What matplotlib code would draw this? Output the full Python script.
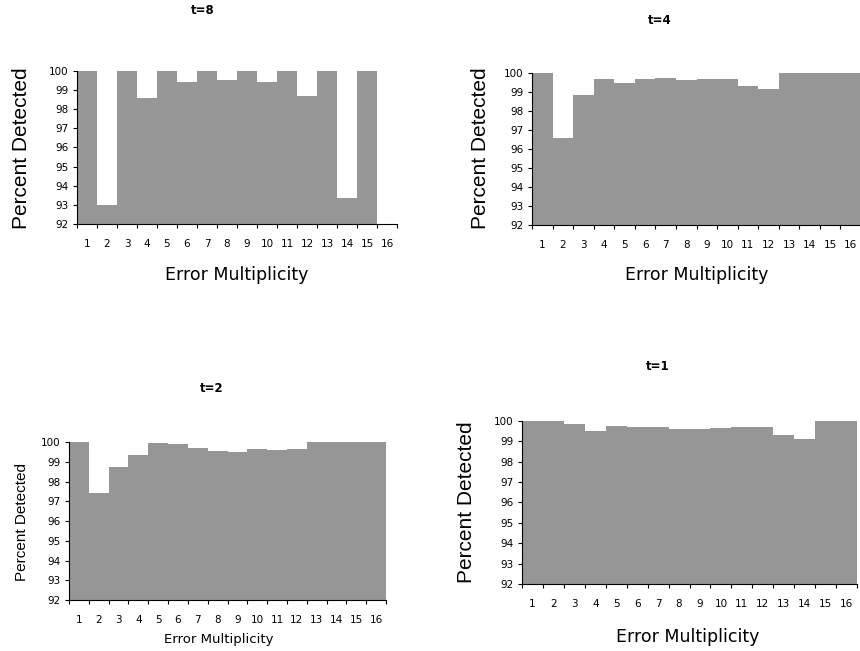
import matplotlib.pyplot as plt
import numpy as np

plt.rcParams['font.family'] = ['DejaVu Sans']

multiplicity = np.arange(1, 17)

# percent of errors detected, per error multiplicity (16 has no bar for t=8)
t8 = [100, 93.0, 100, 98.57, 100, 99.41, 100, 99.51,
      100, 99.41, 100, 98.68, 100, 93.37, 100, np.nan]
t4 = [100, 96.58, 98.87, 99.70, 99.49, 99.70, 99.75, 99.65,
      99.70, 99.70, 99.33, 99.17, 100, 100, 100, 100]
t2 = [100, 97.41, 98.73, 99.36, 99.95, 99.90, 99.70, 99.54,
      99.49, 99.64, 99.59, 99.64, 100, 100, 100, 100]
t1 = [99.98, 99.97, 99.84, 99.49, 99.72, 99.67, 99.67, 99.59,
      99.59, 99.62, 99.67, 99.67, 99.30, 99.10, 99.97, 99.97]

W, H = 860, 651
fig = plt.figure(figsize=(W / 100, H / 100), dpi=100)


def px_axes(left, right, top, bottom):
    return fig.add_axes([left / W, 1 - bottom / H, (right - left) / W, (bottom - top) / H])


def panel(ax, vals, title, title_xy, ylab_xy, xlab_xy, ylab_size, xlab_size):
    ax.bar(multiplicity, np.array(vals) - 92, bottom=92, width=1.0, color='#969696', linewidth=0)
    ax.set_xlim(0.5, 16.5)
    ax.set_ylim(92, 100)
    ax.set_yticks(range(92, 101))
    ax.set_xticks(np.arange(0.5, 17, 1.0))
    ax.set_xticklabels([])
    ax.set_xticks(multiplicity, minor=True)
    ax.set_xticklabels([str(m) for m in multiplicity], minor=True)
    ax.tick_params(axis='x', which='minor', length=0, pad=11, labelsize=7.5)
    ax.tick_params(axis='x', which='major', length=3, width=0.8)
    ax.tick_params(axis='y', length=3, width=0.8, pad=3, labelsize=7.5)
    for s in ('top', 'right'):
        ax.spines[s].set_visible(False)
    for s in ('left', 'bottom'):
        ax.spines[s].set_linewidth(0.8)
    fig.text(title_xy[0] / W, 1 - title_xy[1] / H, title, ha='center', va='center',
             fontsize=8.5, fontweight='bold')
    fig.text(ylab_xy[0] / W, 1 - ylab_xy[1] / H, 'Percent Detected', ha='center', va='center',
             rotation=90, fontsize=ylab_size, family='Liberation Sans')
    fig.text(xlab_xy[0] / W, 1 - xlab_xy[1] / H, 'Error Multiplicity', ha='center', va='center',
             fontsize=xlab_size)


ax8 = px_axes(77, 397, 70.7, 224)
panel(ax8, t8, 't=8', (203, 10), (22, 148), (237, 275), 15, 12.5)

ax4 = px_axes(532, 861, 73.3, 224.7)
panel(ax4, t4, 't=4', (660, 21), (480, 148), (697, 275), 15, 12.5)

ax2 = px_axes(69, 386, 442.3, 600)
panel(ax2, t2, 't=2', (212, 389), (22, 522), (219, 640), 11, 9.5)

ax1 = px_axes(522, 857, 420.7, 584)
panel(ax1, t1, 't=1', (658, 366), (467, 502), (688, 637), 15, 12.5)

fig.savefig('out.png', dpi=100)
